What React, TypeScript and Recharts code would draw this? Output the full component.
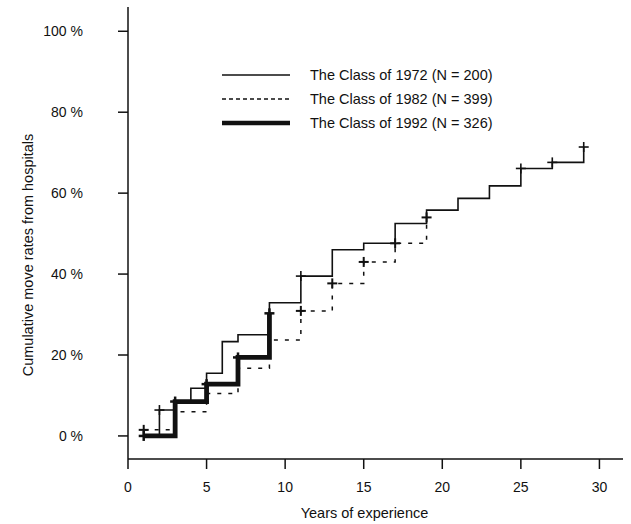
import React from 'react';
import { ComposedChart, Line, Scatter, XAxis, YAxis, Legend } from 'recharts';

// Step data
const YEARS_1972 = [1, 2, 3, 4, 5, 6, 7, 9, 11, 13, 15, 17, 19, 21, 23, 25, 27, 29];
const RATE_1972 = [0, 6.4, 8.5, 11.8, 15.5, 23.3, 25, 32.9, 39.5, 46, 47.6, 52.5, 55.8, 58.7, 61.8, 66.1, 67.6, 71.4];

const YEARS_1982 = [1, 3, 5, 7, 9, 11, 13, 15, 17, 19];
const RATE_1982 = [1.5, 6, 10.5, 16.7, 23.7, 30.9, 37.7, 43, 47.6, 54];

const YEARS_1992 = [1, 3, 5, 7, 9];
const RATE_1992 = [0, 8.5, 12.8, 19.4, 30.3];

// censored observations ("+" marks)
const CENSOR_1972_X = [2, 11, 25, 27, 29];
const CENSOR_1972_Y = [6.4, 39.5, 66.1, 67.6, 71.4];
const CENSOR_1982_X = [1, 11, 13, 15, 17, 19];
const CENSOR_1982_Y = [1.5, 30.9, 37.7, 43, 47.6, 54];
const CENSOR_1992_X = [1, 3, 5, 7, 9];
const CENSOR_1992_Y = [0, 8.5, 12.8, 19.4, 30.3];

const X_TICKS = [0, 5, 10, 15, 20, 25, 30];
const Y_TICKS = [0, 20, 40, 60, 80, 100];

const SERIES_NAMES = ['The Class of 1972 (N = 200)', 'The Class of 1982 (N = 399)', 'The Class of 1992 (N = 326)'];

const zip = (xs: number[], ys: number[]) => xs.map((x, i) => ({ x, y: ys[i] }));

const FONT = '"Liberation Sans", Arial, sans-serif';
const INK = '#111';

const plus = (size: number, width: number) => (props: any) => {
  const { cx, cy } = props;
  if (cx == null || cy == null) return null;
  return (
    <g stroke={INK} strokeWidth={width}>
      <line x1={cx - size} x2={cx + size} y1={cy} y2={cy} />
      <line x1={cx} x2={cx} y1={cy - size} y2={cy + size} />
    </g>
  );
};

const legendStyles = [
  { strokeWidth: 1.5, dash: undefined },
  { strokeWidth: 1.5, dash: '4 3' },
  { strokeWidth: 4.5, dash: undefined },
];

function LegendBox() {
  return (
    <div style={{ fontFamily: FONT, fontSize: 14.5, color: INK }}>
      {SERIES_NAMES.map((name, i) => (
        <div key={name} style={{ display: 'flex', alignItems: 'center', height: 24 }}>
          <svg width={70} height={10} style={{ marginRight: 18 }}>
            <line x1={0} x2={68} y1={5} y2={5} stroke={INK}
              strokeWidth={legendStyles[i].strokeWidth} strokeDasharray={legendStyles[i].dash} />
          </svg>
          <span>{name}</span>
        </div>
      ))}
    </div>
  );
}

export default function App() {
  const d1972 = zip(YEARS_1972, RATE_1972);
  const d1982 = zip(YEARS_1982, RATE_1982);
  const d1992 = zip(YEARS_1992, RATE_1992);

  const tickStyle = { fontFamily: FONT, fontSize: 14, fill: INK };

  return (
    <div style={{ position: 'absolute', left: 0, top: 0, background: '#fff' }}>
      <ComposedChart width={631} height={524} margin={{ top: 7, right: 8, bottom: 0, left: 0 }}>
        <XAxis xAxisId="b" type="number" dataKey="x" domain={[0, 31.5]} ticks={X_TICKS}
          allowDataOverflow height={65} stroke={INK} tickSize={10} tickMargin={13}
          tick={tickStyle} axisLine={{ stroke: INK, strokeWidth: 1.5 }} tickLine={{ stroke: INK, strokeWidth: 1.5 }}
          label={{ value: 'Years of experience', position: 'center', dx: -11, dy: 21, style: { fontFamily: FONT, fontSize: 14.5, fill: INK } }} />
        <XAxis xAxisId="t" orientation="top" type="number" domain={[0, 31.5]} height={0}
          tick={false} tickLine={false} axisLine={{ stroke: INK, strokeWidth: 1.2 }} />
        <YAxis yAxisId="l" type="number" domain={[-5.7, 106]} ticks={Y_TICKS} allowDataOverflow
          width={128} tickSize={10} tickMargin={35} tick={tickStyle}
          tickFormatter={(v: number) => `${v} %`}
          axisLine={{ stroke: INK, strokeWidth: 1.5 }} tickLine={{ stroke: INK, strokeWidth: 1.5 }}
          label={{ value: 'Cumulative move rates from hospitals', angle: -90, position: 'center', dx: -36, dy: 22, style: { fontFamily: FONT, fontSize: 14.5, fill: INK } }} />
        <YAxis yAxisId="r" orientation="right" type="number" domain={[-5.7, 106]} width={0}
          tick={false} tickLine={false} axisLine={{ stroke: INK, strokeWidth: 1.2 }} />

        <Legend layout="horizontal" verticalAlign="middle" align="center"
          wrapperStyle={{ top: 63, left: 222, width: 340 }} content={() => <LegendBox />} />

        <Line xAxisId="b" yAxisId="l" data={d1982} dataKey="y" type="stepAfter" stroke={INK}
          strokeWidth={1.5} strokeDasharray="4 7" dot={false} isAnimationActive={false} name={SERIES_NAMES[1]} />
        <Line xAxisId="b" yAxisId="l" data={d1972} dataKey="y" type="stepAfter" stroke={INK}
          strokeWidth={1.6} dot={false} isAnimationActive={false} name={SERIES_NAMES[0]} />
        <Line xAxisId="b" yAxisId="l" data={d1992} dataKey="y" type="stepAfter" stroke={INK}
          strokeWidth={4.8} dot={false} isAnimationActive={false} name={SERIES_NAMES[2]} />

        <Scatter xAxisId="b" yAxisId="l" data={zip(CENSOR_1972_X, CENSOR_1972_Y)} dataKey="y"
          shape={plus(5, 1.6)} isAnimationActive={false} legendType="none" />
        <Scatter xAxisId="b" yAxisId="l" data={zip(CENSOR_1982_X, CENSOR_1982_Y)} dataKey="y"
          shape={plus(5, 2)} isAnimationActive={false} legendType="none" />
        <Scatter xAxisId="b" yAxisId="l" data={zip(CENSOR_1992_X, CENSOR_1992_Y)} dataKey="y"
          shape={plus(5, 2.5)} isAnimationActive={false} legendType="none" />
      </ComposedChart>
    </div>
  );
}
